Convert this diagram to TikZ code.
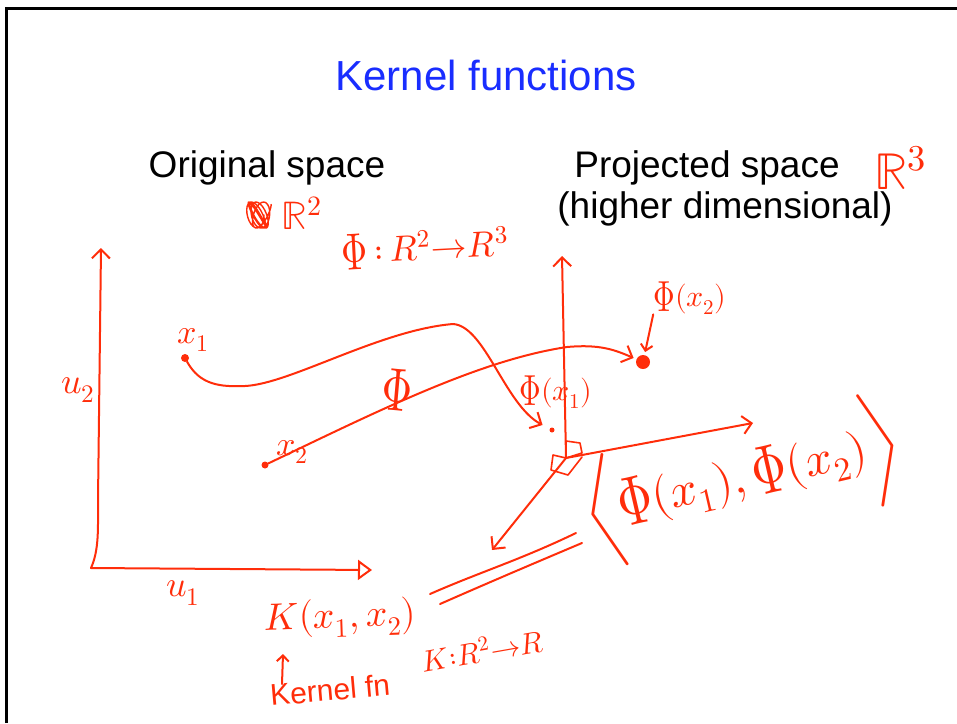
\documentclass[tikz,border=0pt]{standalone}
\usepackage{graphicx}
\usepackage{fontspec}
\usepackage{unicode-math}
\setmainfont{Liberation Sans}
\setmathfont{Latin Modern Math}
\usetikzlibrary{arrows.meta}
\definecolor{hwred}{RGB}{255,45,10}
\definecolor{titleblue}{RGB}{25,45,255}
\newcommand{\fsz}[1]{\fontsize{#1}{#1}\selectfont}
\newcommand{\tallPhi}{\raisebox{-0.16em}{\scalebox{1}[1.45]{$\Phi$}}}

\begin{document}
\begin{tikzpicture}[
    x=1pt, y=-1pt,
    ink/.style={draw=hwred, line width=2pt, line cap=round, line join=round},
    hwarrow/.style={ink, -{Straight Barb[length=9pt, width=18pt]}},
    smallarrow/.style={ink, -{Straight Barb[length=6pt, width=12pt]}},
    triarrow/.style={ink, -{Triangle[open, length=14pt, width=20pt]}},
    hwtext/.style={text=hwred, inner sep=0pt},
    slidetext/.style={font=\fsz{37}, anchor=base, inner sep=0pt},
    ptdot/.style={circle, fill=hwred, inner sep=0pt, minimum size=#1}
]
\useasboundingbox (0,0) rectangle (957,723);

% slide frame and printed text
\draw[line width=3pt] (6,723) -- (6,8) -- (957,8);
\node[anchor=base, inner sep=0pt, text=titleblue, font=\fsz{42}] (title) at (486,90) {Kernel functions};
\node[slidetext] (orig)   at (267,177) {Original space};
\node[slidetext] (proj)   at (707,177) {Projected space};
\node[slidetext] (higher) at (725,218) {(higher dimensional)};

% handwritten notes at the top
\draw[ink, line width=1.4pt] plot[domain=0:1800, samples=120, smooth]
    ({255 + 9*cos(\x) + 0.004*\x}, {215 + 13*sin(1.13*\x)});
\node[hwtext, font=\fsz{40}] (r2) at (302,213) {$\mathbb{R}^2$};
\node[hwtext, font=\fsz{36}, rotate=3] (phimap) at (425,248) {\tallPhi$\,{:}\,R^2{\to}R^3$};
\node[hwtext, font=\fsz{52}] (r3) at (900,168) {$\mathbb{R}^3$};

% original space
\coordinate (o)     at (91,568);
\coordinate (u2end) at (101,248);
\coordinate (u1end) at (372,570);
\draw[hwarrow] (o) .. controls (99,550) and (98,530) .. (98,500) -- (u2end);
\draw[triarrow] (o) -- (u1end);
\node[hwtext, font=\fsz{36}] (u2) at (78,390) {$u_2$};
\node[hwtext, font=\fsz{36}] (u1) at (183,593) {$u_1$};

\node[ptdot=8pt] (p1) at (185,358) {};
\node[ptdot=7pt] (p2) at (265,465) {};
\node[hwtext, font=\fsz{34}] (x1) at (193,340) {$x_1$};
\node[hwtext, font=\fsz{34}] (x2) at (292,452) {$x_2$};

% projected space
\coordinate (O)  at (566,458);
\coordinate (e3) at (562,256);
\coordinate (e1) at (753,423);
\coordinate (e2) at (492,550);
\draw[hwarrow] (O) -- (e3);
\draw[hwarrow] (O) -- (e1);
\draw[hwarrow] (O) -- (e2);
\draw[ink, line width=1.6pt] (O) -- ++(0,-17) -- ++(14,2) -- ++(2,10) -- cycle;
\draw[ink, line width=1.6pt] (O) -- ++(-13,-3) -- ++(-2,15) -- ++(17,5) -- ++(14,-18);

\node[ptdot=5pt]  (q1) at (552,430) {};
\node[ptdot=14pt] (q2) at (643,362) {};
\node[hwtext, font=\fsz{30}] (phix1) at (556,392) {\tallPhi$(x_1)$};
\node[hwtext, font=\fsz{30}] (phix2) at (690,298) {\tallPhi$(x_2)$};
\draw[smallarrow, shorten >=3pt] (phix2.south west) -- (q2);

% the map
\draw[hwarrow, shorten >=8pt] (p1) .. controls (200,385) and (220,387) .. (245,386)
    .. controls (290,384) and (380,330) .. (453,324)
    .. controls (485,326) and (505,405) .. (q1);
\draw[hwarrow, shorten >=3pt] (p2) .. controls (380,410) and (480,360) .. (567,347)
    .. controls (600,344) and (615,350) .. (q2);
\node[hwtext, font=\fsz{42}, rotate=-5] (phi) at (397,390) {\tallPhi};

% kernel
\node[hwtext, font=\fsz{48}, rotate=13] (inner) at (743,480)
    {$\biggl\langle$\tallPhi$(x_1),\,$\tallPhi$(x_2)\biggr\rangle$};
\node[hwtext, font=\fsz{38}, rotate=2] (kx) at (340,618) {$K(x_1,x_2)$};
\coordinate (eqa1) at (430,594);
\coordinate (eqb1) at (576,533);
\coordinate (eqa2) at (440,604);
\coordinate (eqb2) at (582,543);
\draw[ink] (eqa1) .. controls (480,572) and (520,560) .. (eqb1);
\draw[ink] (eqa2) .. controls (490,582) and (530,565) .. (eqb2);

\node[hwtext, font=\fsz{30}, rotate=5] (kfn) at (330,690) {Kernel fn};
\coordinate (kfntop) at (282,684);
\coordinate (kxbot)  at (283,654);
\draw[smallarrow] (kfntop) -- (kxbot);
\node[hwtext, font=\fsz{30}, rotate=10] (kmap) at (482,650) {$K{:}R^2{\to}R$};
\end{tikzpicture}
\end{document}
